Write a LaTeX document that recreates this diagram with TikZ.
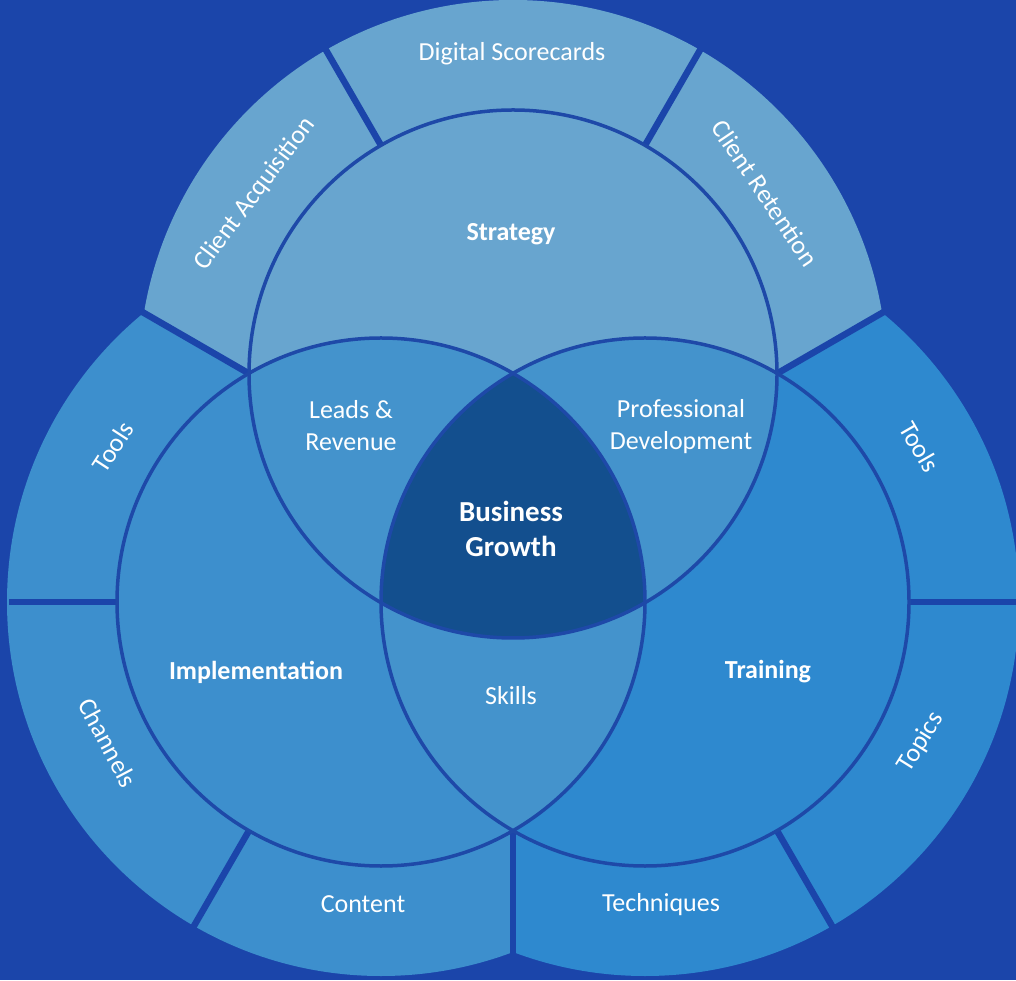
\documentclass[tikz,border=0pt]{standalone}
\usepackage{fontspec}
\setmainfont{Carlito}
\usepackage{tikz}

\definecolor{bgblue}{HTML}{1B45AA}
\definecolor{lineblue}{HTML}{1E49A8}
\definecolor{topblue}{HTML}{68A5CF}
\definecolor{leftblue}{HTML}{3D8FCD}
\definecolor{rightblue}{HTML}{2E89CF}
\definecolor{pairblue}{HTML}{4493CC}
\definecolor{coreblue}{HTML}{134F8E}

\tikzset{
  ringtext/.style={text=white, font=\fontsize{26}{32}\selectfont, align=center, inner sep=1pt},
  headtext/.style={text=white, font=\fontsize{26}{32}\selectfont\bfseries, align=center, inner sep=1pt},
  gap/.style={draw=bgblue, line width=6.5pt},
  rim/.style={draw=lineblue, line width=3.5pt},
}

\begin{document}
\begin{tikzpicture}[x=1pt,y=1pt]
\fill[bgblue] (0,0) rectangle (1016,980);
\useasboundingbox (0,0) rectangle (1016,980);

\coordinate (T) at (513,606);
\coordinate (L) at (381,378);
\coordinate (R) at (645,378);
\coordinate (O) at (513,454);

% outer rings
\begin{scope}
\clip (O) -- +(30:1000) -- +(90:1000) -- +(150:1000) -- cycle;
\fill[topblue] (T) circle (374);
\end{scope}
\begin{scope}
\clip (O) -- +(150:1000) -- +(210:1000) -- +(270:1000) -- cycle;
\fill[leftblue] (L) circle (374);
\end{scope}
\begin{scope}
\clip (O) -- +(270:1000) -- +(330:1000) -- +(30:1000) -- cycle;
\fill[rightblue] (R) circle (374);
\end{scope}

% gaps between the segments
\draw[gap] (O) -- +(30:436);
\draw[gap] (O) -- +(150:436);
\draw[gap] (O) -- +(270:436);
\draw[gap] (T) -- +(60:385);
\draw[gap] (T) -- +(120:385);
\draw[gap] (L) -- +(180:372);
\draw[gap] (L) -- +(240:385);
\draw[gap] (R) -- +(0:385);
\draw[gap] (R) -- +(300:385);

% inner circles
\fill[topblue] (T) circle (264);
\fill[leftblue] (L) circle (264);
\fill[rightblue] (R) circle (264);
\begin{scope}
\clip (T) circle (264);
\fill[pairblue] (L) circle (264);
\fill[pairblue] (R) circle (264);
\end{scope}
\begin{scope}
\clip (L) circle (264);
\fill[pairblue] (R) circle (264);
\end{scope}
\begin{scope}
\clip (T) circle (264);
\clip (L) circle (264);
\fill[coreblue] (R) circle (264);
\end{scope}
\draw[rim] (T) circle (264);
\draw[rim] (L) circle (264);
\draw[rim] (R) circle (264);

% labels
\node[headtext](strategy) at (511,746) {Strategy};
\node[headtext](implementation) at (256,308) {Implementation};
\node[headtext](training) at (768,308) {Training};
\node[headtext, font=\fontsize{29}{35}\selectfont\bfseries](growth) at (511,451) {Business\\Growth};
\node[ringtext](leads) at (351,554) {Leads \&\\Revenue};
\node[ringtext](development) at (681,553) {Professional\\Development};
\node[ringtext](skills) at (511,284) {Skills};

\node[ringtext](scorecards) at (512,926) {Digital Scorecards};
\node[ringtext, rotate=53](acquisition) at (255,786) {Client Acquisition};
\node[ringtext, rotate=-56](retention) at (765,787) {Client Retention};
\node[ringtext, rotate=57](tools_l) at (113,533) {Tools};
\node[ringtext, rotate=-62](channels) at (108,237) {Channels};
\node[ringtext](content) at (363,76) {Content};
\node[ringtext](techniques) at (661,75) {Techniques};
\node[ringtext, rotate=58](topics) at (921,238) {Topics};
\node[ringtext, rotate=-60](tools_r) at (920,533) {Tools};
\end{tikzpicture}
\end{document}
